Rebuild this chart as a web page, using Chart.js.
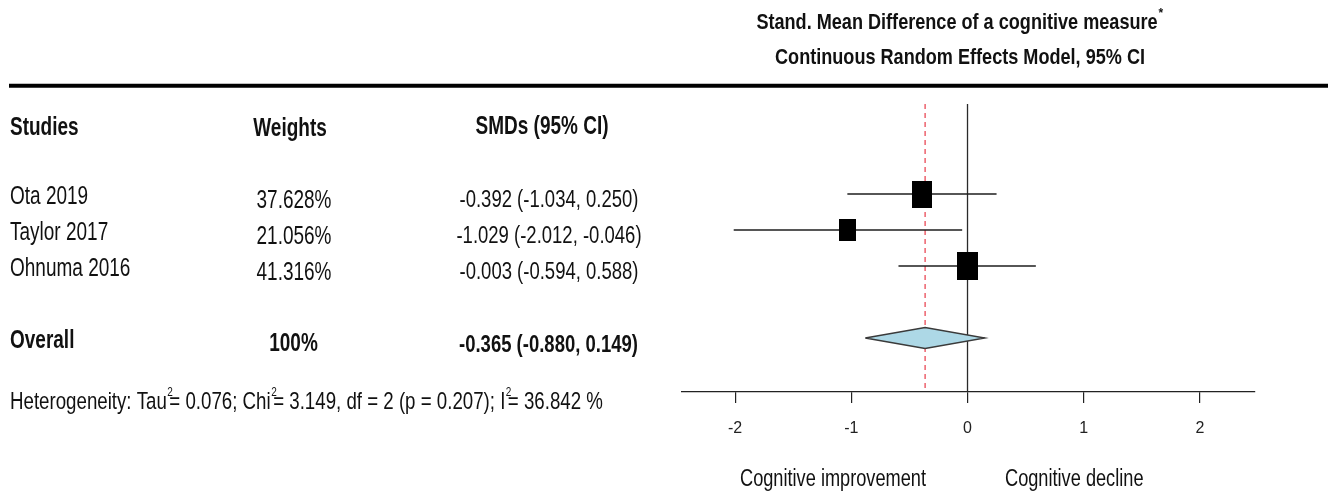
<!DOCTYPE html>
<html>
<head>
<meta charset="utf-8">
<script src="https://cdn.jsdelivr.net/npm/chart.js@4.4.1/dist/chart.umd.min.js"></script>
<style>
html,body{margin:0;padding:0;background:#fff;}
canvas{display:block;}
</style>
</head>
<body>
<canvas id="c" width="1334" height="496"></canvas>
<script>
// ---------- data ----------
const studies   = ['Ota 2019', 'Taylor 2017', 'Ohnuma 2016'];
const weights   = [37.628, 21.056, 41.316];
const smd       = [-0.392, -1.029, -0.003];
const ciLow     = [-1.034, -2.012, -0.594];
const ciHigh    = [0.250, -0.046, 0.588];
const overallLabel  = 'Overall';
const overallWeight = 100;
const overallSmd    = -0.365;
const overallLow    = -0.880;
const overallHigh   = 0.149;
const tickValues = [-2, -1, 0, 1, 2];
const heteroTau2 = 0.076;
const heteroChi2 = 3.149;
const heteroDf   = 2;
const heteroP    = 0.207;
const heteroI2   = 36.842;
const titleLines = ['Stand. Mean Difference of a cognitive measure', 'Continuous Random Effects Model, 95% CI'];
const columnHeaders = ['Studies', 'Weights', 'SMDs (95% CI)'];
const directionLabels = ['Cognitive improvement', 'Cognitive decline'];

// ---------- layout (row positions on y scale) ----------
const Y_MIN = -1.5, Y_MAX = 6.5;
const ROW_HEADER = -0.875;
const studyRows = studies.map((_, i) => i + 1);
const ROW_OVERALL = 5;
const ROW_HETERO = 6.74;
const DIAMOND_HALF = 0.29;

// square markers sized from weights
const maxW = Math.max(...weights);
const squareImgs = weights.map(w => {
  const f = Math.pow(w / maxW, 0.3);
  const cv = document.createElement('canvas');
  cv.width = Math.round(21 * f);
  cv.height = Math.round(27.5 * f);
  const g = cv.getContext('2d');
  g.fillStyle = '#000';
  g.fillRect(0, 0, cv.width, cv.height);
  return cv;
});

const fmt3 = v => v.toFixed(3);
const smdText = (m, l, h) => `${fmt3(m)} (${fmt3(l)}, ${fmt3(h)})`;

const FONT = '"Liberation Sans", Arial, sans-serif';
function drawText(ctx, s, x, y, o) {
  ctx.save();
  ctx.font = `${o.bold ? 'bold ' : ''}${o.size}px ${FONT}`;
  ctx.fillStyle = o.color || '#111';
  ctx.textAlign = o.align || 'left';
  ctx.textBaseline = 'middle';
  const w = ctx.measureText(s).width;
  ctx.translate(x, y);
  ctx.scale(1, o.sy || 1);
  ctx.fillText(s, 0, 0);
  ctx.restore();
  return w;
}

const textPlugin = {
  id: 'forestText',
  afterDraw(chart) {
    const ctx = chart.ctx;
    const ys = chart.scales.y;
    // title
    const t1w = drawText(ctx, titleLines[0], 957, 23, {size: 18.1, bold: true, sy: 1.18, align: 'center'});
    drawText(ctx, '*', 957 + t1w / 2 + 1, 14, {size: 12, bold: true});
    drawText(ctx, titleLines[1], 960, 58, {size: 18.1, bold: true, sy: 1.18, align: 'center'});
    // rule
    ctx.save();
    ctx.strokeStyle = '#000';
    ctx.lineWidth = 4;
    ctx.beginPath();
    ctx.moveTo(9, 85.7); ctx.lineTo(1328, 85.7);
    ctx.stroke();
    ctx.restore();

    const T = {size: 19, sy: 1.32};
    const hy = ys.getPixelForValue(ROW_HEADER) + 2;
    drawText(ctx, columnHeaders[0], 10, hy, {...T, bold: true});
    drawText(ctx, columnHeaders[1], 290, hy + 1, {...T, bold: true, align: 'center'});
    drawText(ctx, columnHeaders[2], 542, hy - 1, {...T, bold: true, align: 'center'});

    studies.forEach((s, i) => {
      const y = ys.getPixelForValue(studyRows[i]) + 2;
      drawText(ctx, s, 10, y + 1, T);
      drawText(ctx, fmt3(weights[i]) + '%', 294, y + 5.5, {...T, align: 'center'});
      drawText(ctx, smdText(smd[i], ciLow[i], ciHigh[i]), 549, y + 4, {size: 18.5, sy: 1.32, align: 'center'});
    });

    const oy = ys.getPixelForValue(ROW_OVERALL) + 2;
    drawText(ctx, overallLabel, 10, oy + 1.5, {...T, bold: true});
    drawText(ctx, overallWeight + '%', 293.5, oy + 4, {...T, bold: true, align: 'center'});
    drawText(ctx, smdText(overallSmd, overallLow, overallHigh), 548.5, oy + 5, {size: 18.5, sy: 1.32, bold: true, align: 'center'});

    // heterogeneity line with superscripts
    const hgy = ys.getPixelForValue(ROW_HETERO) + 2;
    const H = {size: 18.7, sy: 1.3};
    const parts = [
      ['Heterogeneity: Tau', false], ['2', true], [`= ${fmt3(heteroTau2)}; Chi`, false], ['2', true],
      [`= ${fmt3(heteroChi2)}, df = ${heteroDf} (p = ${fmt3(heteroP)}); I`, false], ['2', true], [`= ${fmt3(heteroI2)} %`, false]
    ];
    let x = 10;
    parts.forEach(([s, sup]) => {
      if (sup) {
        drawText(ctx, s, x + 0.5, hgy - 10, {size: 10, sy: 1.2});
        x += 2.5;
      } else {
        x += drawText(ctx, s, x, hgy, H);
      }
    });

    // direction labels
    drawText(ctx, directionLabels[0], 740, 480, {size: 18.2, sy: 1.28});
    drawText(ctx, directionLabels[1], 1005, 480, {size: 18.2, sy: 1.28});
  }
};

const lineDs = (pts, color, width, dash) => ({
  type: 'scatter', data: pts, showLine: true, borderColor: color, borderWidth: width,
  borderDash: dash || [], pointRadius: 0, pointHoverRadius: 0, fill: false, tension: 0
});

const datasets = [];
// diamond (overall)
datasets.push({
  type: 'scatter',
  data: [
    {x: overallLow, y: ROW_OVERALL}, {x: overallSmd, y: ROW_OVERALL - DIAMOND_HALF},
    {x: overallHigh, y: ROW_OVERALL}, {x: overallSmd, y: ROW_OVERALL + DIAMOND_HALF},
    {x: overallLow, y: ROW_OVERALL}
  ],
  showLine: true, fill: 'shape', backgroundColor: '#add8e6', borderColor: '#3a3a3a', borderWidth: 1.4,
  pointRadius: 0, tension: 0
});
// squares
datasets.push({
  type: 'scatter',
  data: studies.map((_, i) => ({x: smd[i], y: studyRows[i]})),
  pointStyle: squareImgs, pointRadius: 5, pointHoverRadius: 5, showLine: false
});
// CI lines
studies.forEach((_, i) => {
  datasets.push(lineDs([{x: ciLow[i], y: studyRows[i]}, {x: ciHigh[i], y: studyRows[i]}], '#1e1e1e', 1.6));
});
// overall estimate (dashed red)
datasets.push(lineDs([{x: overallSmd, y: Y_MIN}, {x: overallSmd, y: Y_MAX}], '#e83a48', 1.2, [5, 4]));
// null line
datasets.push(lineDs([{x: 0, y: Y_MIN}, {x: 0, y: Y_MAX}], '#2a2a2a', 1.3));

new Chart(document.getElementById('c'), {
  type: 'scatter',
  data: {datasets},
  options: {
    responsive: false,
    devicePixelRatio: 1,
    animation: false,
    layout: {padding: {left: 682, right: 79, top: 104, bottom: 0}},
    plugins: {legend: {display: false}, tooltip: {enabled: false}},
    events: [],
    scales: {
      x: {
        type: 'linear', min: -2.457, max: 2.474, position: 'bottom',
        afterBuildTicks: s => { s.ticks = tickValues.map(v => ({value: v})); },
        afterFit: s => { s.height = 104; },
        grid: {drawOnChartArea: false, drawTicks: true, tickLength: 11, color: '#222', lineWidth: 1.2},
        border: {display: true, color: '#222', width: 1.3},
        ticks: {padding: 16, color: '#222', font: {family: FONT, size: 16},
                maxRotation: 0, autoSkip: false, callback: v => String(v)}
      },
      y: {type: 'linear', display: false, reverse: true, min: Y_MIN, max: Y_MAX}
    }
  },
  plugins: [textPlugin]
});
</script>
</body>
</html>
